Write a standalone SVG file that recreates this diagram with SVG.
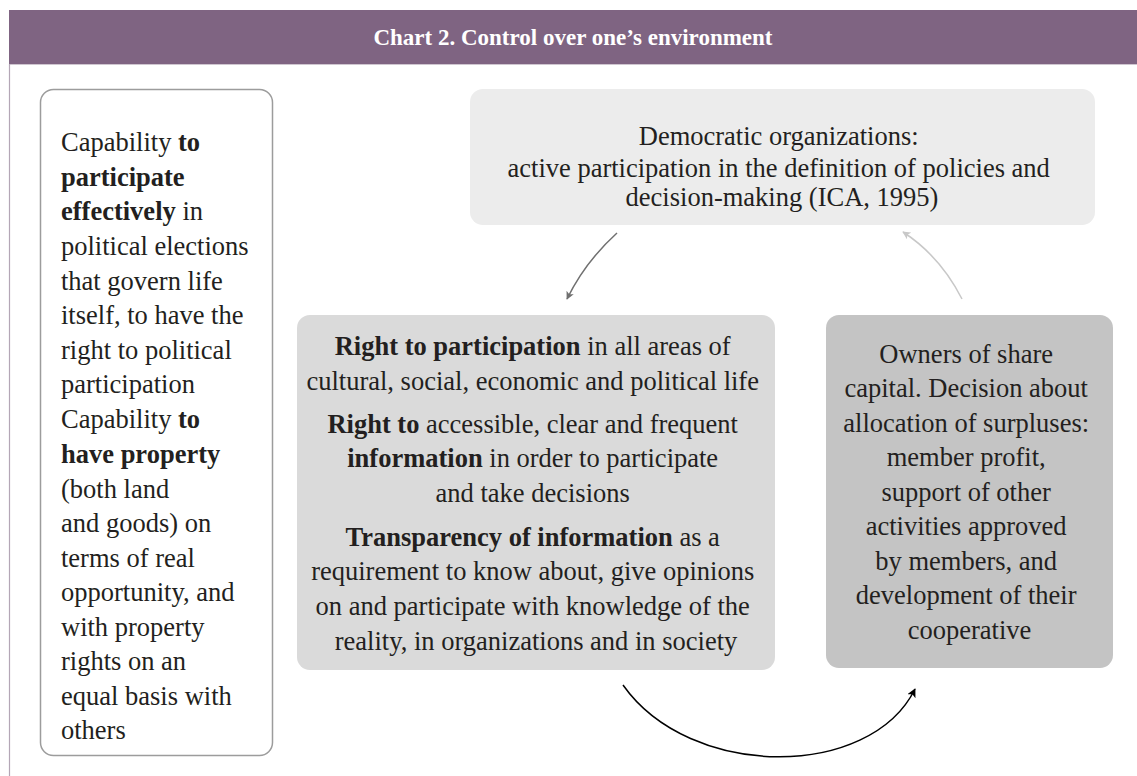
<svg xmlns="http://www.w3.org/2000/svg" width="1137" height="776" viewBox="0 0 1137 776">
  <style>
    .t { font-family: "Liberation Serif", "Times New Roman", serif; font-size: 26.5px; fill: #231f20; }
    .c { text-anchor: middle; }
    .b { font-weight: bold; }
    .title { font-family: "Liberation Serif", "Times New Roman", serif; font-size: 23px; font-weight: bold; fill: #ffffff; text-anchor: middle; }
    .conn { fill: none; stroke-width: 1.5; }
  </style>
  <defs>
    <marker id="headDark" viewBox="0 0 10 10" refX="9" refY="5" markerWidth="8" markerHeight="8" markerUnits="userSpaceOnUse" orient="auto">
      <path d="M0,0 L10,5 L0,10 L2.5,5 Z" fill="#707070"/>
    </marker>
    <marker id="headLight" viewBox="0 0 10 10" refX="9" refY="5" markerWidth="8" markerHeight="8" markerUnits="userSpaceOnUse" orient="auto">
      <path d="M0,0 L10,5 L0,10 L2.5,5 Z" fill="#c8c8c8"/>
    </marker>
    <marker id="headBlack" viewBox="0 0 10 10" refX="9" refY="5" markerWidth="9" markerHeight="9" markerUnits="userSpaceOnUse" orient="auto">
      <path d="M0,0 L10,5 L0,10 L2.5,5 Z" fill="#000000"/>
    </marker>
  </defs>

  <rect width="1137" height="776" fill="#ffffff"/>

  <!-- header band and frame -->
  <g id="header">
    <rect x="9" y="10" width="1128" height="54" fill="#7f6482"/>
    <line x1="9" y1="64.5" x2="1137" y2="64.5" stroke="#cfc6d0" stroke-width="1"/>
    <line x1="9.5" y1="64" x2="9.5" y2="776" stroke="#b4a6b6" stroke-width="1.2"/>
    <text class="title" x="573" y="45">Chart 2. Control over one’s environment</text>
  </g>

  <!-- left capability box -->
  <g id="capabilities">
    <rect x="40.5" y="89.5" width="232" height="666" rx="13" fill="#ffffff" stroke="#9c9c9c" stroke-width="1.5"/>
    <text class="t" x="61">
      <tspan x="61" y="151">Capability <tspan class="b">to</tspan></tspan>
      <tspan x="61" y="186" class="b">participate</tspan>
      <tspan x="61" y="220"><tspan class="b">effectively</tspan> in</tspan>
      <tspan x="61" y="255">political elections</tspan>
      <tspan x="61" y="290">that govern life</tspan>
      <tspan x="61" y="324">itself, to have the</tspan>
      <tspan x="61" y="359">right to political</tspan>
      <tspan x="61" y="393">participation</tspan>
      <tspan x="61" y="428">Capability <tspan class="b">to</tspan></tspan>
      <tspan x="61" y="463" class="b">have property</tspan>
      <tspan x="61" y="498">(both land</tspan>
      <tspan x="61" y="532">and goods) on</tspan>
      <tspan x="61" y="567">terms of real</tspan>
      <tspan x="61" y="601">opportunity, and</tspan>
      <tspan x="61" y="636">with property</tspan>
      <tspan x="61" y="670">rights on an</tspan>
      <tspan x="61" y="705">equal basis with</tspan>
      <tspan x="61" y="739">others</tspan>
    </text>
  </g>

  <!-- democratic organizations -->
  <g id="democratic">
    <rect x="470" y="89" width="625" height="136" rx="13" fill="#ececec"/>
    <text class="t c">
      <tspan x="782" y="145">Democratic organizations:</tspan>
      <tspan x="782" y="177">active participation in the definition of policies and</tspan>
      <tspan x="782" y="206">decision-making (ICA, 1995)</tspan>
    </text>
  </g>

  <!-- rights box -->
  <g id="rights">
    <rect x="297" y="315" width="478" height="355" rx="13" fill="#dadada"/>
    <text class="t c">
      <tspan x="536" y="355"><tspan class="b">Right to participation</tspan> in all areas of</tspan>
      <tspan x="536" y="390">cultural, social, economic and political life</tspan>
      <tspan x="536" y="433"><tspan class="b">Right to</tspan> accessible, clear and frequent</tspan>
      <tspan x="536" y="467"><tspan class="b">information</tspan> in order to participate</tspan>
      <tspan x="536" y="502">and take decisions</tspan>
      <tspan x="536" y="546"><tspan class="b">Transparency of information</tspan> as a</tspan>
      <tspan x="536" y="580">requirement to know about, give opinions</tspan>
      <tspan x="536" y="615">on and participate with knowledge of the</tspan>
      <tspan x="536" y="650">reality, in organizations and in society</tspan>
    </text>
  </g>

  <!-- owners box -->
  <g id="owners">
    <rect x="826" y="315" width="287" height="353" rx="13" fill="#c4c4c4"/>
    <text class="t c">
      <tspan x="969.5" y="363">Owners of share</tspan>
      <tspan x="969.5" y="397">capital. Decision about</tspan>
      <tspan x="969.5" y="432">allocation of surpluses:</tspan>
      <tspan x="969.5" y="466">member profit,</tspan>
      <tspan x="969.5" y="501">support of other</tspan>
      <tspan x="969.5" y="535">activities approved</tspan>
      <tspan x="969.5" y="570">by members, and</tspan>
      <tspan x="969.5" y="604">development of their</tspan>
      <tspan x="969.5" y="639">cooperative</tspan>
    </text>
  </g>

  <!-- connectors -->
  <g id="connectors">
    <path class="conn" d="M617,233 Q585,262 567,299" stroke="#707070" marker-end="url(#headDark)"/>
    <path class="conn" d="M962,299 Q940,256 903,232" stroke="#c8c8c8" marker-end="url(#headLight)"/>
    <path class="conn" d="M623,685 C690,780 870,780 915,689" stroke="#000000" marker-end="url(#headBlack)"/>
  </g>
</svg>
